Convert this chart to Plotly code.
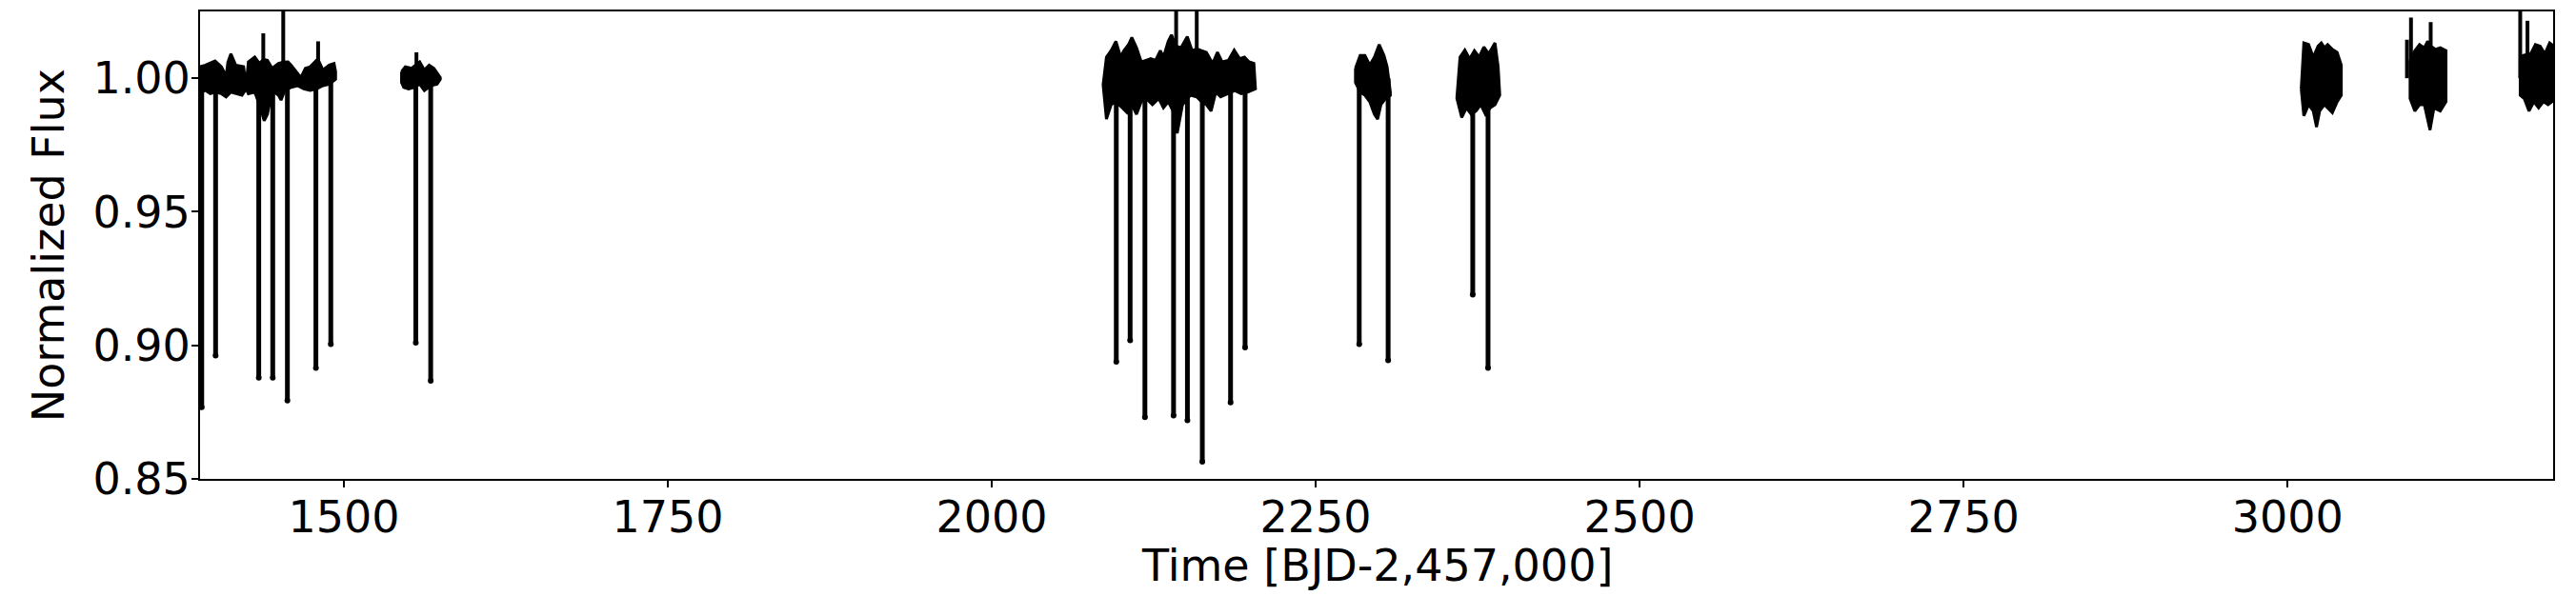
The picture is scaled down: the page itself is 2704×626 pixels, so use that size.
import plotly.graph_objects as go

# ---------------- data ----------------
# Out-of-eclipse flux envelope for each observing block: (time, flux)
B1_UPPER = [(1388.8, 1.0043), (1393.2, 1.0049), (1400.6, 1.0065), (1405.5, 1.0043), (1409.1, 1.0008),
            (1410.5, 1.0060), (1412.8, 1.0091), (1416.5, 1.0049), (1422.6, 1.0043), (1424.5, 0.9972),
            (1426.3, 1.0061), (1431.2, 1.0079), (1434.8, 1.0055), (1437.8, 1.0070), (1441.0, 1.0067),
            (1444.6, 1.0037), (1449.5, 1.0055), (1453.2, 1.0060), (1456.9, 1.0061), (1459.3, 1.0049),
            (1464.2, 1.0019), (1466.7, 1.0002), (1470.3, 1.0037), (1474.0, 1.0043), (1478.9, 1.0067),
            (1480.1, 1.0070), (1483.8, 1.0031), (1488.7, 1.0049), (1492.4, 1.0055), (1493.6, 1.0025)]
B1_LOWER = [(1388.8, 0.9948), (1393.2, 0.9954), (1396.9, 0.9942), (1400.6, 0.9948), (1405.5, 0.9942),
            (1409.1, 0.9930), (1412.8, 0.9948), (1416.5, 0.9942), (1421.4, 0.9936), (1424.5, 0.9960),
            (1426.3, 0.9942), (1431.2, 0.9948), (1434.8, 0.9901), (1438.5, 0.9841), (1441.0, 0.9865),
            (1444.6, 0.9954), (1449.5, 0.9936), (1451.5, 0.9918), (1454.4, 0.9954), (1459.3, 0.9966),
            (1464.2, 0.9972), (1469.1, 0.9960), (1474.0, 0.9954), (1478.9, 0.9960), (1483.8, 0.9972),
            (1488.7, 0.9978), (1493.6, 0.9996)]
B2_UPPER = [(1544.5, 1.0025), (1547.4, 1.0043), (1552.3, 1.0037), (1556.0, 1.0050), (1558.5, 1.0061),
            (1562.1, 1.0031), (1565.8, 1.0049), (1569.5, 1.0037), (1573.1, 1.0013), (1574.4, 1.0002)]
B2_LOWER = [(1544.5, 0.9984), (1546.2, 0.9966), (1549.9, 0.9960), (1554.8, 0.9966), (1558.5, 0.9978),
            (1562.1, 0.9954), (1567.0, 0.9972), (1571.9, 0.9978), (1574.4, 0.9996)]
B3_UPPER = [(2086.0, 0.9978), (2088.5, 1.0079), (2092.1, 1.0103), (2095.8, 1.0138), (2099.5, 1.0079),
            (2101.9, 1.0103), (2105.6, 1.0126), (2108.1, 1.0152), (2111.7, 1.0114), (2115.4, 1.0061),
            (2119.1, 1.0067), (2122.7, 1.0073), (2126.4, 1.0067), (2130.1, 1.0103), (2132.5, 1.0079),
            (2136.2, 1.0138), (2138.7, 1.0162), (2142.3, 1.0120), (2146.0, 1.0114), (2150.9, 1.0156),
            (2154.6, 1.0103), (2158.2, 1.0110), (2161.9, 1.0103), (2165.6, 1.0097), (2170.5, 1.0055),
            (2174.2, 1.0097), (2177.8, 1.0061), (2182.7, 1.0067), (2187.1, 1.0105), (2191.3, 1.0073),
            (2195.0, 1.0079), (2198.6, 1.0061), (2202.3, 1.0055), (2203.5, 0.9966)]
B3_LOWER = [(2086.0, 0.9972), (2088.5, 0.9847), (2092.1, 0.9901), (2095.8, 0.9912), (2100.7, 0.9889),
            (2104.4, 0.9871), (2108.1, 0.9901), (2111.7, 0.9865), (2115.4, 0.9912), (2119.1, 0.9924),
            (2124.0, 0.9901), (2128.9, 0.9924), (2132.5, 0.9889), (2136.2, 0.9912), (2139.9, 0.9877),
            (2143.1, 0.9794), (2147.2, 0.9901), (2153.3, 0.9936), (2158.2, 0.9930), (2161.9, 0.9912),
            (2165.6, 0.9901), (2169.3, 0.9877), (2172.9, 0.9948), (2176.6, 0.9930), (2182.7, 0.9942),
            (2187.6, 0.9954), (2192.5, 0.9942), (2197.4, 0.9948), (2203.5, 0.9960)]
B4_UPPER = [(2280.7, 1.0037), (2284.3, 1.0085), (2288.0, 1.0085), (2291.7, 1.0049), (2295.3, 1.0079),
            (2299.0, 1.0126), (2302.7, 1.0085), (2305.1, 1.0043), (2307.6, 0.9948)]
B4_LOWER = [(2280.7, 0.9984), (2284.3, 0.9948), (2288.0, 0.9936), (2291.7, 0.9912), (2295.3, 0.9865),
            (2297.8, 0.9847), (2300.3, 0.9901), (2303.9, 0.9924), (2307.6, 0.9936)]
B5_UPPER = [(2359.0, 0.9930), (2361.4, 1.0079), (2365.1, 1.0105), (2368.8, 1.0073), (2372.5, 1.0103),
            (2376.1, 1.0079), (2379.8, 1.0117), (2383.5, 1.0091), (2388.4, 1.0132), (2390.8, 1.0043),
            (2392.0, 0.9942)]
B5_LOWER = [(2359.0, 0.9924), (2362.7, 0.9853), (2366.3, 0.9889), (2370.0, 0.9865), (2373.7, 0.9877),
            (2377.4, 0.9901), (2381.0, 0.9865), (2384.7, 0.9889), (2388.4, 0.9901), (2392.0, 0.9936)]
B6_UPPER = [(3010.6, 0.9960), (3012.6, 1.0132), (3016.3, 1.0126), (3019.9, 1.0079), (3023.6, 1.0120),
            (3026.1, 1.0132), (3028.5, 1.0114), (3031.0, 1.0126), (3034.6, 1.0108), (3038.3, 1.0097),
            (3041.5, 1.0049)]
B6_LOWER = [(3010.6, 0.9948), (3012.6, 0.9859), (3016.3, 0.9901), (3019.9, 0.9877), (3022.4, 0.9817),
            (3024.8, 0.9877), (3028.5, 0.9901), (3032.2, 0.9883), (3034.6, 0.9871), (3038.3, 0.9912),
            (3041.5, 0.9936)]
B7_UPPER = [(3094.6, 1.0067), (3098.3, 1.0103), (3101.9, 1.0126), (3105.6, 1.0114), (3108.1, 1.0138),
            (3110.5, 1.0120), (3114.2, 1.0108), (3117.9, 1.0114), (3122.3, 1.0103)]
B7_LOWER = [(3094.6, 0.9924), (3098.3, 0.9877), (3101.9, 0.9901), (3105.6, 0.9901), (3110.0, 0.9806),
            (3113.0, 0.9889), (3117.9, 0.9877), (3122.3, 0.9912)]
B8_UPPER = [(3179.6, 1.0080), (3181.5, 1.0085), (3185.2, 1.0090), (3187.6, 1.0091), (3191.3, 1.0126),
            (3195.0, 1.0120), (3198.6, 1.0091), (3202.3, 1.0132), (3204.0, 1.0126)]
B8_LOWER = [(3179.6, 0.9936), (3182.7, 0.9924), (3186.4, 0.9877), (3190.1, 0.9912), (3193.8, 0.9889),
            (3197.4, 0.9912), (3201.1, 0.9901), (3204.0, 0.9912)]

BLOCKS = [(B1_UPPER, B1_LOWER), (B2_UPPER, B2_LOWER), (B3_UPPER, B3_LOWER), (B4_UPPER, B4_LOWER),
          (B5_UPPER, B5_LOWER), (B6_UPPER, B6_LOWER), (B7_UPPER, B7_LOWER), (B8_UPPER, B8_LOWER)]

# Eclipse minima: mid-time and minimum normalized flux
ECLIPSE_T = [1390.3, 1401.0, 1434.3, 1445.1, 1456.4, 1478.4, 1489.9, 1555.5, 1567.0,
             2096.1, 2106.8, 2118.2, 2140.3, 2151.0, 2162.5, 2184.3, 2195.5,
             2283.6, 2305.9, 2371.2, 2383.0]
ECLIPSE_MIN = [0.8768, 0.8962, 0.8879, 0.8879, 0.8793, 0.8915, 0.9004, 0.9010, 0.8867,
               0.8938, 0.9019, 0.8731, 0.8737, 0.8719, 0.8564, 0.8786, 0.8992,
               0.9004, 0.8944, 0.9190, 0.8915]

# Brightening excursions (flares / outliers): time and peak flux
SPIKE_T = [1437.8, 1453.2, 1480.1, 1556.0, 2142.3, 2158.2, 3092.2, 3095.3, 3110.5, 3179.6, 3185.2]
SPIKE_MAX = [1.0168, 1.0300, 1.0138, 1.0097, 1.0300, 1.0300, 1.0144, 1.0227, 1.0210, 1.0300, 1.0215]

BASELINE = 1.0
X_TICKS = [1500, 1750, 2000, 2250, 2500, 2750, 3000]
Y_TICKS = [0.85, 0.90, 0.95, 1.00]
X_RANGE = [1389, 3205]
Y_RANGE = [0.85, 1.025]
X_TITLE = "Time [BJD-2,457,000]"
Y_TITLE = "Normalized Flux"

# ---------------- figure ----------------
fig = go.Figure()

for upper, lower in BLOCKS:
    xs = [p[0] for p in upper] + [p[0] for p in reversed(lower)] + [upper[0][0]]
    ys = [p[1] for p in upper] + [p[1] for p in reversed(lower)] + [upper[0][1]]
    fig.add_trace(go.Scatter(x=xs, y=ys, mode="lines", fill="toself", fillcolor="black",
                             line=dict(color="black", width=3), hoverinfo="skip", showlegend=False))

ex, ey = [], []
for t, m in zip(ECLIPSE_T, ECLIPSE_MIN):
    ex += [t, t, None]
    ey += [BASELINE, m, None]
fig.add_trace(go.Scatter(x=ex, y=ey, mode="lines", line=dict(color="black", width=5),
                         showlegend=False))
fig.add_trace(go.Scatter(x=ECLIPSE_T, y=ECLIPSE_MIN, mode="markers",
                         marker=dict(color="black", size=6), showlegend=False))

sx, sy = [], []
for t, m in zip(SPIKE_T, SPIKE_MAX):
    sx += [t, t, None]
    sy += [BASELINE, m, None]
fig.add_trace(go.Scatter(x=sx, y=sy, mode="lines", line=dict(color="black", width=4),
                         showlegend=False))

axis_font = dict(family="DejaVu Sans", size=46, color="black")
fig.update_layout(
    width=2704, height=626,
    margin=dict(l=210, r=24, t=12, b=123, autoexpand=False),
    paper_bgcolor="white", plot_bgcolor="white",
    font=axis_font,
    xaxis=dict(range=X_RANGE, tickvals=X_TICKS, ticktext=[str(v) for v in X_TICKS],
               showgrid=False, zeroline=False, showline=True, mirror=True, automargin=False,
               linecolor="black", linewidth=2, ticks="outside", ticklen=7, tickwidth=2,
               tickcolor="black", tickfont=axis_font, ticklabelstandoff=-8),
    yaxis=dict(range=Y_RANGE, tickvals=Y_TICKS, ticktext=[f"{v:.2f}" for v in Y_TICKS],
               showgrid=False, zeroline=False, showline=True, mirror=True, automargin=False,
               linecolor="black", linewidth=2, ticks="outside", ticklen=7, tickwidth=2,
               tickcolor="black", tickfont=axis_font, ticklabelstandoff=-8),
    annotations=[
        dict(text=X_TITLE, xref="paper", yref="paper", x=0.5, y=-0.186,
             xanchor="center", yanchor="middle", showarrow=False, font=axis_font),
        dict(text=Y_TITLE, xref="paper", yref="paper", x=-0.0645, y=0.5, textangle=-90,
             xanchor="center", yanchor="middle", showarrow=False, font=axis_font),
    ],
)

fig.write_html("out.html", config={"displayModeBar": False},
               post_script="document.body.style.margin='0';document.body.style.padding='0';")
